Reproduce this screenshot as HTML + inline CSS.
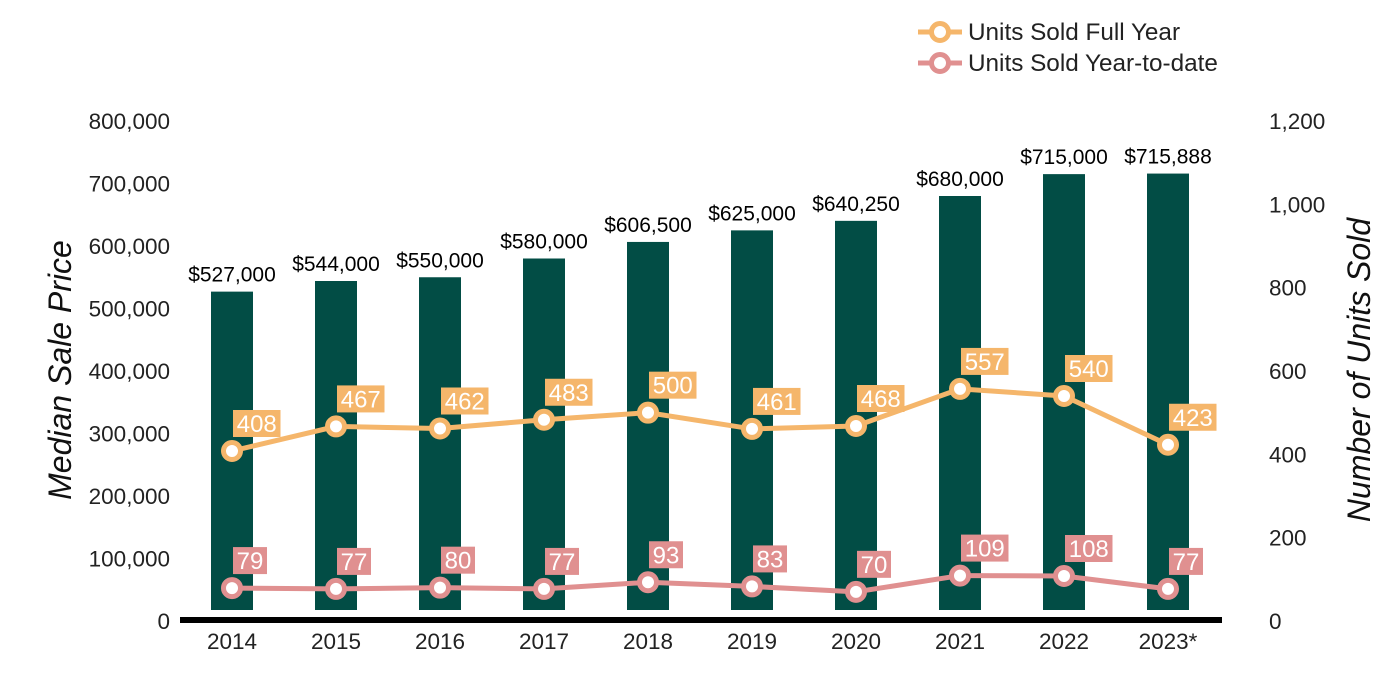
<!DOCTYPE html>
<html><head><meta charset="utf-8"><style>
body{margin:0;background:#fff;}
svg{display:block;font-family:"Liberation Sans",Arial,sans-serif;}
</style></head><body>
<svg id="chart" width="1400" height="700" viewBox="0 0 1400 700">
<g id="legend">
 <g>
  <line x1="918" y1="32" x2="962" y2="32" stroke="#F5B66B" stroke-width="5"/>
  <circle cx="940" cy="32" r="8.5" fill="#fff" stroke="#F5B66B" stroke-width="5"/>
  <text x="968" y="40" font-size="24.3" fill="#222">Units Sold Full Year</text>
 </g>
 <g>
  <line x1="918" y1="63" x2="962" y2="63" stroke="#E09090" stroke-width="5"/>
  <circle cx="940" cy="63" r="8.5" fill="#fff" stroke="#E09090" stroke-width="5"/>
  <text x="968" y="71" font-size="24.3" fill="#222">Units Sold Year-to-date</text>
 </g>
</g>
<text transform="translate(71,370) rotate(-90)" text-anchor="middle" font-size="32" font-style="italic" fill="#111">Median Sale Price</text>
<text transform="translate(1370,370) rotate(-90)" text-anchor="middle" font-size="32" font-style="italic" fill="#111">Number of Units Sold</text>
<g id="axes"></g>
<g id="bars"></g>
<g id="lines"></g>
</svg>
<script>
const categories=["2014","2015","2016","2017","2018","2019","2020","2021","2022","2023*"];
const prices=[527000,544000,550000,580000,606500,625000,640250,680000,715000,715888];
const fullYear=[408,467,462,483,500,461,468,557,540,423];
const ytd=[79,77,80,77,93,83,70,109,108,77];
const leftTicks=[0,100000,200000,300000,400000,500000,600000,700000,800000];
const rightTicks=[0,200,400,600,800,1000,1200];
const NS="http://www.w3.org/2000/svg";
const y0=621, yTop=121;
function yL(v){return y0-(v/800000)*(y0-yTop);}
function yR(v){return y0-(v/1200)*(y0-yTop);}
function xC(i){return 232+i*104;}
function mk(tag,attrs,parent,text){const e=document.createElementNS(NS,tag);for(const k in attrs)e.setAttribute(k,attrs[k]);if(text!==undefined)e.textContent=text;parent.appendChild(e);return e;}
const axes=document.getElementById('axes'),bars=document.getElementById('bars'),lines=document.getElementById('lines');
leftTicks.forEach(t=>{const e=mk('text',{x:170,y:yL(t)+8,'text-anchor':'end','font-size':22.5,fill:'#222'},axes,t.toLocaleString('en-US'));

});
rightTicks.forEach(t=>{const e=mk('text',{x:1269,y:yR(t)+8,'font-size':22.5,fill:'#222'},axes,t.toLocaleString('en-US'));

});
categories.forEach((c,i)=>{const e=mk('text',{x:xC(i),y:649,'text-anchor':'middle','font-size':22.5,fill:'#222'},axes,c);

});
prices.forEach((p,i)=>{
 const r=mk('rect',{x:xC(i)-21,y:yL(p),width:42,height:610-yL(p),fill:'#024D45'},bars);
 
 
 const t=mk('text',{x:xC(i),y:yL(p)-10,'text-anchor':'middle','font-size':21,fill:'#000'},bars,'$'+p.toLocaleString('en-US'));
 
 
});
const ax=mk('line',{x1:180,y1:620,x2:1222,y2:620,stroke:'#000','stroke-width':6},axes);


function series(vals,color,name){
 const pts=vals.map((v,i)=>xC(i)+','+yR(v)).join(' ');
 const pl=mk('polyline',{points:pts,fill:'none',stroke:color,'stroke-width':5},lines);
 
 
 vals.forEach((v,i)=>{
  const cx=xC(i),cy=yR(v);
  const c=mk('circle',{cx:cx,cy:cy,r:8.5,fill:'#fff',stroke:color,'stroke-width':5},lines);
  
  
  const s=String(v),w=s.length*13.5+7;
  const b=mk('rect',{x:cx+1,y:cy-41,width:w,height:27,fill:color},lines);
  
  
  const t=mk('text',{x:cx+1+w/2,y:cy-19,'text-anchor':'middle','font-size':24,fill:'#fff'},lines,s);
  
  
 });
}
series(fullYear,'#F5B66B','full-year');
series(ytd,'#E09090','year-to-date');
</script>
</body></html>
